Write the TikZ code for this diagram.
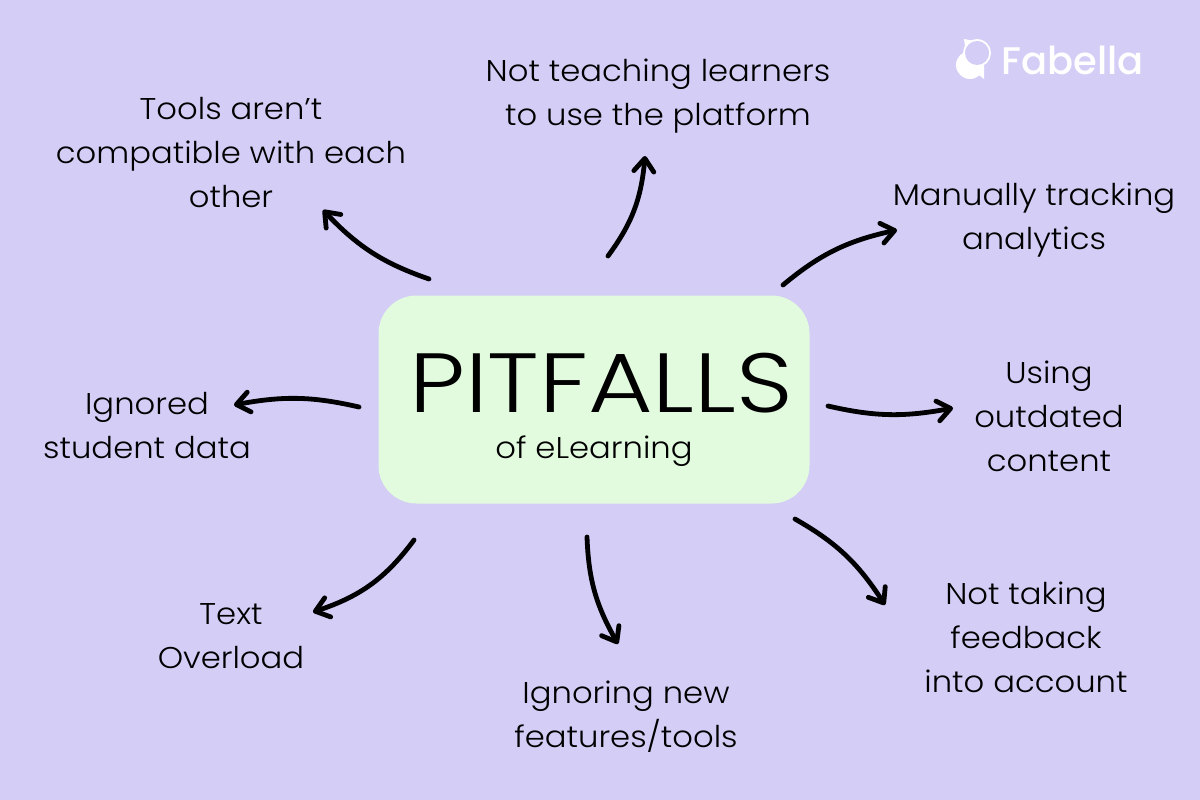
\documentclass[tikz,border=0pt]{standalone}
\usepackage{fontspec}
\setmainfont{Poppins}[UprightFont=* Light,FakeStretch=1.075]
\newfontfamily\titlefont{Poppins}[UprightFont=* Light,FakeStretch=1.18]
\newfontfamily\logofont{Poppins}[UprightFont=* Medium]
\usetikzlibrary{arrows.meta,bending}
\definecolor{pageback}{HTML}{D4CDF6}
\definecolor{boxback}{HTML}{E2FBDE}
\tikzset{
    pitlabel/.style={
            align=center,
            inner sep=0pt,
            font=\fontsize{30}{44}\selectfont
        },
    pitbox/.style={
            fill=boxback,
            rounded corners=38pt,
            minimum width=431pt,
            minimum height=208pt
        },
    pitarrow/.style={
            line width=4.8pt,
            line cap=round,
            -{Straight Barb[length=13pt,width=20pt,line width=4.8pt,round,flex]}
        },
}
\begin{document}
\begin{tikzpicture}[x=1pt,y=-1pt]
    \fill[pageback] (0,0) rectangle (1200,800);
    \useasboundingbox (0,0) rectangle (1200,800);
    %center
    \node[pitbox] (pitfalls) at (594,399.5) {};
    \node[inner sep=0pt,font=\titlefont\fontsize{84}{84}\selectfont] (title) at (601,383) {PITFALLS};
    \node[pitlabel] (subtitle) at (594,451) {of eLearning};
    %labels
    \node[pitlabel] (tools) at (231,153) {Tools aren’t\\compatible with each\\other};
    \node[pitlabel] (teaching) at (658,96) {Not teaching learners\\to use the platform};
    \node[pitlabel] (tracking) at (1034,220.5) {Manually tracking\\analytics};
    \node[pitlabel] (outdated) at (1049,416) {Using\\outdated\\content};
    \node[pitlabel] (feedback) at (1026,637) {Not taking\\feedback\\into account};
    \node[pitlabel] (features) at (626,717) {Ignoring new\\features/tools};
    \node[pitlabel] (overload) at (231,636) {Text\\Overload};
    \node[pitlabel] (ignored) at (147,426) {Ignored\\student data};
    %arrows
    \draw[pitarrow] ([xshift=-165pt,yshift=120.5pt]pitfalls.center) to[bend left=14] ([xshift=92pt,yshift=-57pt]tools.center);
    \draw[pitarrow] ([xshift=14pt,yshift=143.5pt]pitfalls.center) to[bend right=16] ([xshift=-13pt,yshift=-60pt]teaching.center);
    \draw[pitarrow] ([xshift=189pt,yshift=114.5pt]pitfalls.center) to[bend left=14] ([xshift=-137pt,yshift=-9.5pt]tracking.center);
    \draw[pitarrow] ([xshift=234pt,yshift=-6.5pt]pitfalls.center) to[bend right=12] ([xshift=-96pt,yshift=8pt]outdated.center);
    \draw[pitarrow] ([xshift=201pt,yshift=-119.5pt]pitfalls.center) to[bend left=14] ([xshift=-141pt,yshift=32pt]feedback.center);
    \draw[pitarrow] ([xshift=-7pt,yshift=-137.5pt]pitfalls.center) to[bend right=14] ([xshift=-8pt,yshift=73pt]features.center);
    \draw[pitarrow] ([xshift=-180pt,yshift=-140.5pt]pitfalls.center) to[bend left=18] ([xshift=82pt,yshift=24pt]overload.center);
    \draw[pitarrow] ([xshift=-235pt,yshift=-7.5pt]pitfalls.center) to[bend right=12] ([xshift=87pt,yshift=21pt]ignored.center);
    %logo
    \node[inner sep=0pt,text=white,font=\logofont\fontsize{38.5}{38.5}\selectfont] (logo) at (1072.5,60) {Fabella};
    \fill[white] (964,39) -- (979,42) -- (966,53) -- cycle;
    \draw[white,line width=2pt] (977,53) circle (13pt);
    \fill[white] (970,65) circle (14pt);
    \fill[white] (975,72) -- (984,79) -- (984,62) -- cycle;
    \fill[pageback] (977,53) circle (12pt);
\end{tikzpicture}
\end{document}
